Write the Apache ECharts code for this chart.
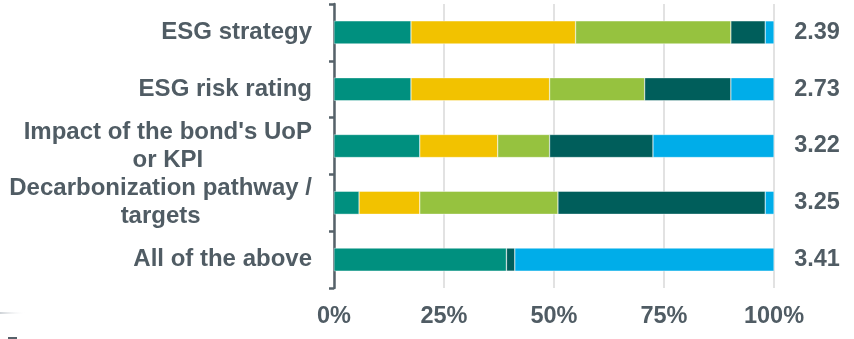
<!DOCTYPE html>
<html>
<head>
<meta charset="utf-8">
<script src="https://cdn.jsdelivr.net/npm/echarts@6/dist/echarts.min.js"></script>
<style>
  html, body { margin: 0; padding: 0; background: #ffffff; }
  #chart { width: 854px; height: 339px; }
</style>
</head>
<body>
<div id="chart"></div>
<script>
// Survey topics, top to bottom
const categories = [
  'ESG strategy',
  'ESG risk rating',
  "Impact of the bond's UoP\nor KPI",
  'Decarbonization pathway /\ntargets',
  'All of the above'
];

// Share of respondents (%) per rating level, 1 (lowest) to 5 (highest)
const level1 = [17.5, 17.5, 19.5, 5.7, 39.2];
const level2 = [37.4, 31.5, 17.7, 13.8, 0];
const level3 = [35.3, 21.6, 11.8, 31.4, 0];
const level4 = [7.8, 19.6, 23.5, 47.1, 1.9];
const level5 = [2.0, 9.8, 27.5, 2.0, 58.9];

// Average rating per topic
const averages = ['2.39', '2.73', '3.22', '3.25', '3.41'];

// Percentage axis ticks
const xTicks = [0, 25, 50, 75, 100];

const levels = [level1, level2, level3, level4, level5];
const levelNames = ['Level 1', 'Level 2', 'Level 3', 'Level 4', 'Level 5'];
const colors = ['#00907F', '#F2C200', '#96C23F', '#005E5B', '#00ADE9'];
const textColor = '#505C64';
const fontFamily = "'Liberation Sans', Arial, sans-serif";

const chart = echarts.init(document.getElementById('chart'), null, { renderer: 'canvas' });

chart.setOption({
  animation: false,
  backgroundColor: '#ffffff',
  grid: { left: 334, right: 80, top: 4, bottom: 51, containLabel: false },
  xAxis: {
    type: 'value',
    min: xTicks[0],
    max: xTicks[xTicks.length - 1],
    interval: xTicks[1] - xTicks[0],
    axisLine: { show: false },
    axisTick: { show: false },
    splitLine: { show: true, lineStyle: { color: '#D9D9D9', width: 1.5 } },
    axisLabel: {
      formatter: '{value}%',
      color: textColor,
      fontFamily: fontFamily,
      fontWeight: 'bold',
      fontSize: 23.5,
      margin: 17
    }
  },
  yAxis: [
    {
      type: 'category',
      data: categories,
      inverse: true,
      axisLine: { show: true, lineStyle: { color: '#56626A', width: 2.5 } },
      axisTick: { show: true, length: 5, lineStyle: { color: '#56626A', width: 2.5 } },
      splitLine: { show: false },
      axisLabel: {
        margin: 22,
        color: textColor,
        fontFamily: fontFamily,
        fontWeight: 'bold',
        fontSize: 24,
        lineHeight: 28,
        formatter: function (value) {
          return value.split('\n').map(function (line) { return '{c|' + line + '}'; }).join('\n');
        },
        rich: {
          c: {
            align: 'center',
            color: textColor,
            fontFamily: fontFamily,
            fontWeight: 'bold',
            fontSize: 24,
            lineHeight: 28
          }
        }
      }
    },
    {
      type: 'category',
      data: averages,
      inverse: true,
      position: 'right',
      axisLine: { show: false },
      axisTick: { show: false },
      splitLine: { show: false },
      axisLabel: {
        align: 'center',
        margin: 43,
        color: textColor,
        fontFamily: fontFamily,
        fontWeight: 'bold',
        fontSize: 23.5
      }
    }
  ],
  series: levels.map(function (values, i) {
    return {
      name: levelNames[i],
      type: 'bar',
      stack: 'share',
      yAxisIndex: 0,
      barWidth: 23,
      data: values,
      itemStyle: { color: colors[i], borderColor: '#ffffff', borderWidth: 0.4 },
      emphasis: { disabled: true }
    };
  }),
  graphic: [
    {
      type: 'rect',
      shape: { x: 0, y: 312, width: 26, height: 2 },
      style: {
        fill: new echarts.graphic.LinearGradient(0, 0, 1, 0, [
          { offset: 0, color: 'rgba(200,205,210,0.9)' },
          { offset: 1, color: 'rgba(255,255,255,0)' }
        ])
      },
      silent: true
    },
    {
      type: 'rect',
      shape: { x: 8, y: 337, width: 9, height: 2 },
      style: { fill: '#56626A' },
      silent: true
    }
  ]
});
</script>
</body>
</html>
